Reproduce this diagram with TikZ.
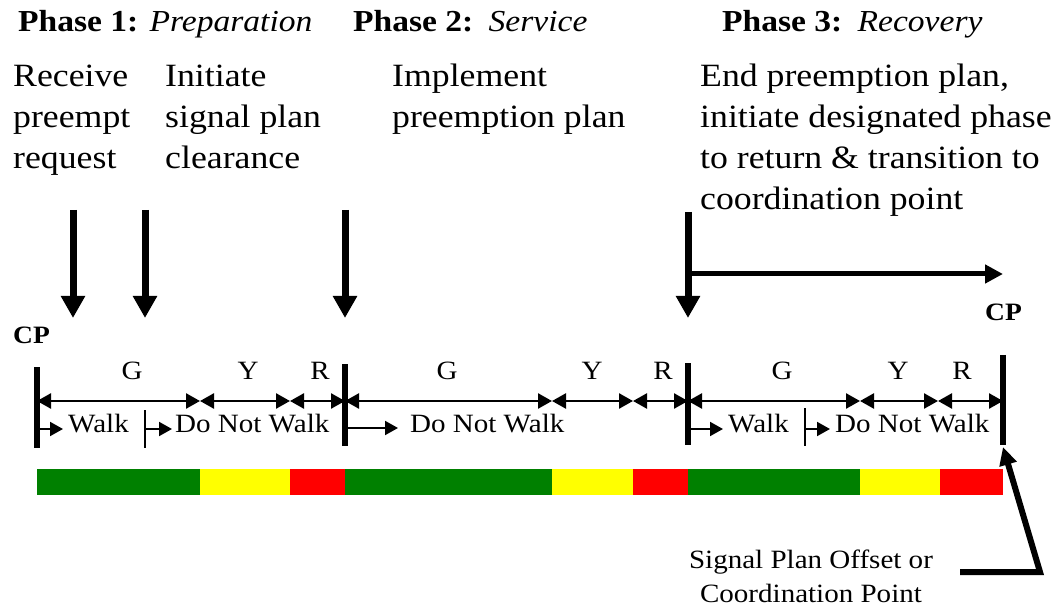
\documentclass[tikz,border=0pt]{standalone}
\usepackage{fontspec}
\setmainfont{Liberation Serif}[FakeStretch=1.1]
\usetikzlibrary{arrows.meta}
\definecolor{sgreen}{RGB}{0,128,0}
\definecolor{syellow}{RGB}{255,255,0}
\definecolor{sred}{RGB}{255,0,0}
\tikzset{
  bodytxt/.style={inner sep=0pt, anchor=base west, align=left, font=\fontsize{32.5}{41}\selectfont},
  titletxt/.style={inner sep=0pt, anchor=base west, font=\fontsize{30.5}{36}\selectfont},
  smalltxt/.style={inner sep=0pt, anchor=base, font=\fontsize{26.4}{34}\selectfont},
  walktxt/.style={inner sep=0pt, anchor=base west, font=\fontsize{26.4}{34}\selectfont},
  cptxt/.style={inner sep=0pt, anchor=base west, font=\fontsize{25}{30}\selectfont\bfseries},
  cpbar/.style={line width=6pt},
  bigarrow/.style={line width=7pt, -{Triangle[length=22pt,width=23pt]}},
  harrow/.style={line width=5pt, -{Triangle[length=18pt,width=18pt]}},
  dimarrow/.style={line width=2.5pt, {Triangle[length=14pt,width=15pt]}-{Triangle[length=14pt,width=15pt]}},
  walkarrow/.style={line width=2pt, -{Triangle[length=13pt,width=14pt]}},
  tickline/.style={line width=1.5pt},
  pointer/.style={line width=6pt, line join=miter, -{Triangle[length=18pt,width=17pt]}}
}
\begin{document}
\begin{tikzpicture}[x=1pt,y=-1pt]
\useasboundingbox (0,0) rectangle (1057,609);
% titles
\node[titletxt] (ph1) at (18,32) {\textbf{Phase 1:} \textit{Preparation}};
\node[titletxt] (ph2) at (353,32) {\textbf{Phase 2:}\hspace{0.5em}\textit{Service}};
\node[titletxt] (ph3) at (722,32) {\textbf{Phase 3:}\hspace{0.5em}\textit{Recovery}};
% descriptions (base anchor = baseline of last line)
\node[bodytxt] (d1) at (13,169) {Receive\\preempt\\request};
\node[bodytxt] (d2) at (165,169) {Initiate\\signal plan\\clearance};
\node[bodytxt] (d3) at (392,128) {Implement\\preemption plan};
\node[bodytxt] (d4) at (700,210) {End preemption plan,\\initiate designated phase\\to return \& transition to\\coordination point};
% event arrows
\coordinate (a1s) at (73,210); \coordinate (a1e) at (73,318);
\coordinate (a2s) at (145,210); \coordinate (a2e) at (145,318);
\coordinate (a3s) at (345,210); \coordinate (a3e) at (345,318);
\coordinate (a4s) at (688,212); \coordinate (a4e) at (688,318);
\coordinate (h4s) at (688,274); \coordinate (h4e) at (1003,274);
\draw[bigarrow] (a1s) -- (a1e);
\draw[bigarrow] (a2s) -- (a2e);
\draw[bigarrow] (a3s) -- (a3e);
\draw[bigarrow] (a4s) -- (a4e);
\draw[harrow] (h4s) -- (h4e);
% CP labels
\node[cptxt] (cpl) at (13,344) {CP};
\node[cptxt] (cpr) at (985,321) {CP};
% boundaries
\coordinate (b0) at (37,401);
\coordinate (b1) at (200,401);
\coordinate (b2) at (290,401);
\coordinate (b3) at (345,401);
\coordinate (b4) at (552,401);
\coordinate (b5) at (633,401);
\coordinate (b6) at (688,401);
\coordinate (b7) at (860,401);
\coordinate (b8) at (938,401);
\coordinate (b9) at (1003,401);
\draw[dimarrow] (b0) -- (b1);
\draw[dimarrow] (b1) -- (b2);
\draw[dimarrow] (b2) -- (b3);
\draw[dimarrow] (b3) -- (b4);
\draw[dimarrow] (b4) -- (b5);
\draw[dimarrow] (b5) -- (b6);
\draw[dimarrow] (b6) -- (b7);
\draw[dimarrow] (b7) -- (b8);
\draw[dimarrow] (b8) -- (b9);
% CP bars
\draw[cpbar] (37,367) -- (37,448);
\draw[cpbar] (345,364) -- (345,446);
\draw[cpbar] (688,363) -- (688,445);
\coordinate (cpbot) at (1003,445);
\draw[cpbar] (1003,355) -- (cpbot);
% G Y R labels
\node[smalltxt] (g1) at (132,379) {G};
\node[smalltxt] (y1) at (248,379) {Y};
\node[smalltxt] (r1) at (320,379) {R};
\node[smalltxt] (g2) at (447,379) {G};
\node[smalltxt] (y2) at (592,379) {Y};
\node[smalltxt] (r2) at (663,379) {R};
\node[smalltxt] (g3) at (782,379) {G};
\node[smalltxt] (y3) at (898,379) {Y};
\node[smalltxt] (r3) at (962,379) {R};
% walk row
\draw[walkarrow] (40,429) -- (63,429);
\node[walktxt] (w1) at (68,432) {Walk};
\draw[tickline] (145,410) -- (145,448);
\draw[walkarrow] (145,429) -- (172,429);
\node[walktxt] (dw1) at (175,432) {Do Not Walk};
\draw[walkarrow] (348,428) -- (398,428);
\node[walktxt] (dw2) at (410,432) {Do Not Walk};
\draw[walkarrow] (691,429) -- (723,429);
\node[walktxt] (w3) at (728,432) {Walk};
\draw[tickline] (805,408) -- (805,446);
\draw[walkarrow] (805,429) -- (830,429);
\node[walktxt] (dw3) at (835,432) {Do Not Walk};
% signal bar
\fill[sgreen] (37,469) rectangle (200,495);
\fill[syellow] (200,469) rectangle (290,495);
\fill[sred] (290,469) rectangle (345,495);
\fill[sgreen] (345,469) rectangle (552,495);
\fill[syellow] (552,469) rectangle (633,495);
\fill[sred] (633,469) rectangle (688,495);
\fill[sgreen] (688,469) rectangle (860,495);
\fill[syellow] (860,469) rectangle (940,495);
\fill[sred] (940,469) rectangle (1003,495);
% offset note
\node[smalltxt, align=center] (note) at (811,602) {Signal Plan Offset or\\Coordination Point};
\coordinate (p0) at (960,572);
\coordinate (p1) at (1040,572);
\coordinate (p2) at (1003,447);
\draw[pointer] (p0) -- (p1) -- (p2);
\end{tikzpicture}
\end{document}
